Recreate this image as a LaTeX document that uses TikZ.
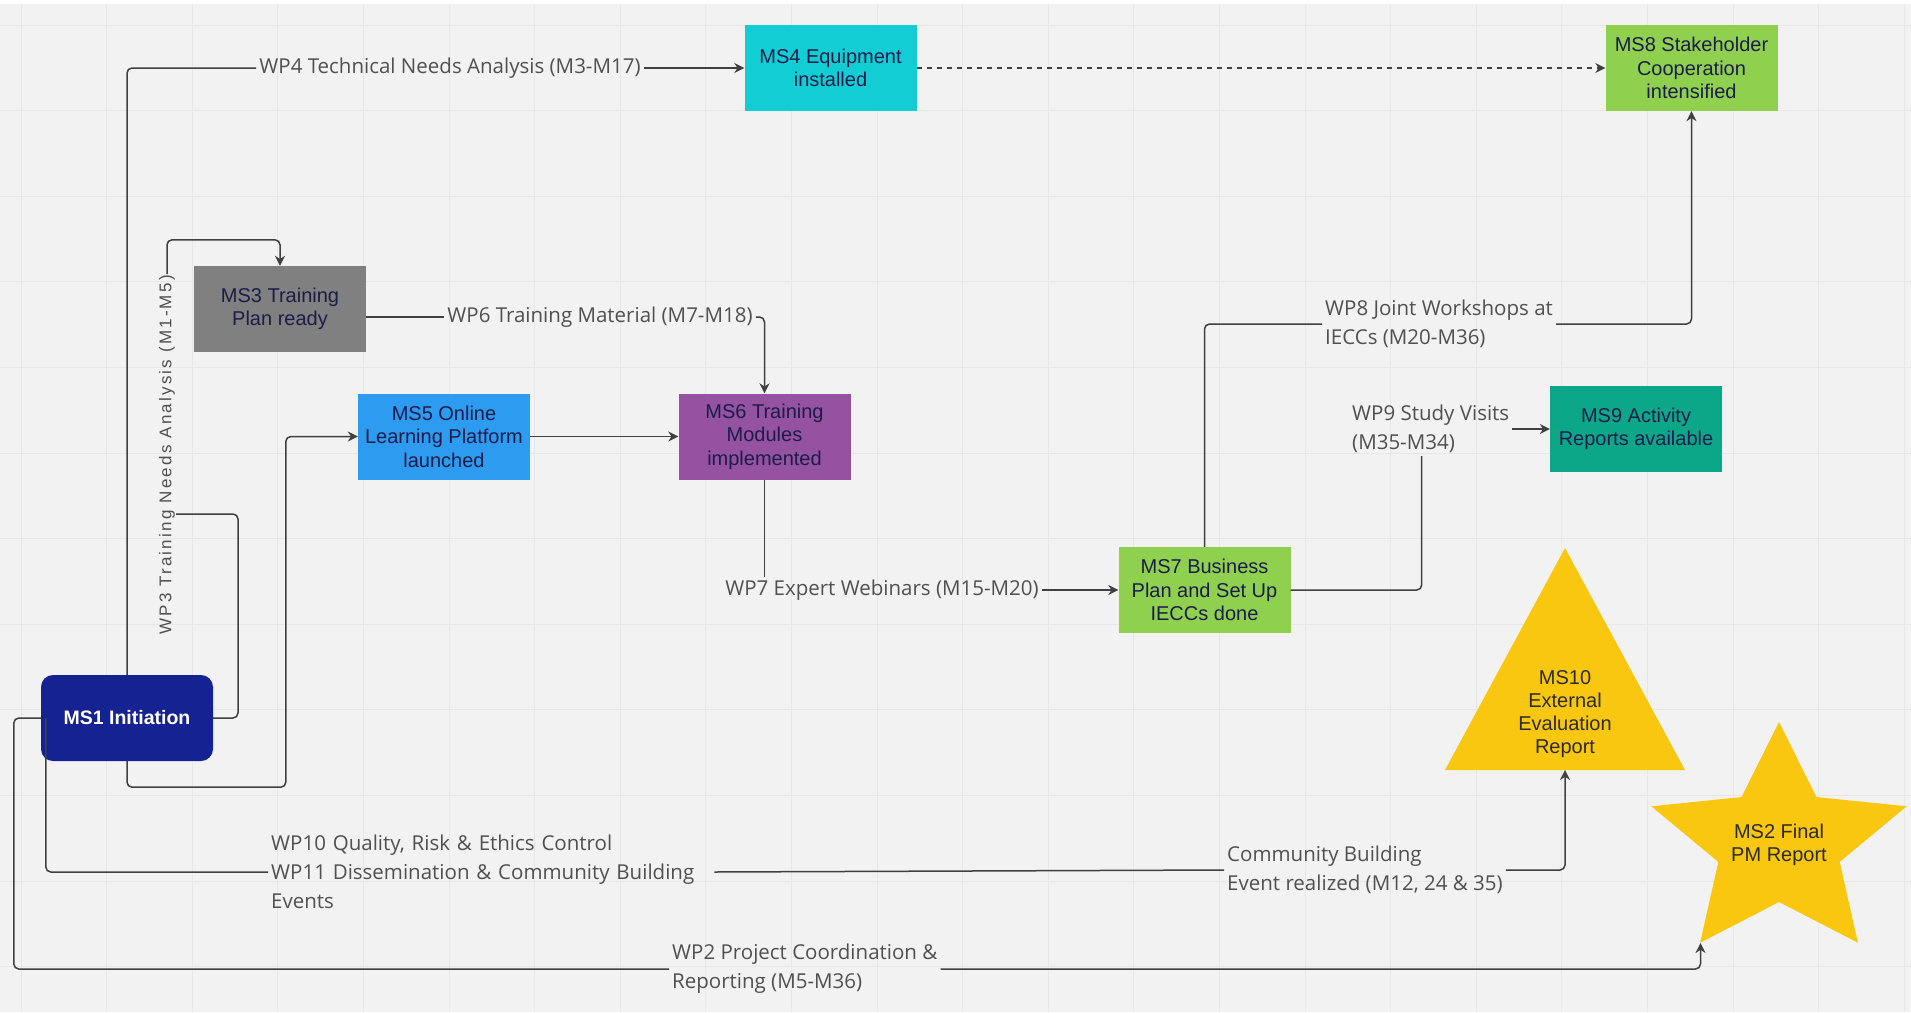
\documentclass[tikz,border=0pt]{standalone}
\usepackage{fontspec}
\setmainfont{Liberation Sans}
\newfontfamily\lblfont{Open Sans}
\newfontfamily\wpfont[LetterSpace=13]{Liberation Sans}
\usetikzlibrary{arrows.meta}

\definecolor{bggray}{HTML}{F2F2F2}
\definecolor{gridgray}{HTML}{E7E7E7}
\definecolor{linegray}{HTML}{404040}
\definecolor{labelgray}{HTML}{505050}
\definecolor{boxtext}{HTML}{1C1C4A}
\definecolor{darktext}{HTML}{2B2B2B}
\definecolor{mscyan}{HTML}{12CDD4}
\definecolor{msgreen}{HTML}{8FD14F}
\definecolor{msgray}{HTML}{808080}
\definecolor{msblue}{HTML}{2D9BF0}
\definecolor{mspurple}{HTML}{9452A0}
\definecolor{msteal}{HTML}{0CA789}
\definecolor{msnavy}{HTML}{142391}
\definecolor{msyellow}{HTML}{FAC710}

\begin{document}
\begin{tikzpicture}[x=1pt,y=-1pt]

 \tikzset{
    msbox/.style={
      minimum width=172pt,
      minimum height=86pt,
      inner sep=2pt,
      align=center,
      text=boxtext,
      font=\fontsize{20}{23.5}\selectfont
    },
    mstext/.style={align=center, text=darktext, font=\fontsize{20}{23}\selectfont},
    wplabel/.style={inner sep=3pt, align=left, text=labelgray,
      font=\lblfont\fontsize{20.5}{29}\selectfont},
    conn/.style={draw=linegray, line width=1.5pt, rounded corners=5pt},
    arr/.style={conn, -{Stealth[length=10pt,width=10pt]}},
    gridline/.style={draw=gridgray, line width=1pt}
  }

\useasboundingbox (0,0) rectangle (1911,1012);
\fill[white] (0,0) rectangle (1911,1012);
\fill[bggray] (0,4) rectangle (1911,1012);
\foreach \i in {0,...,22}
    \draw[gridline] ({21+85.6*\i},4) -- ({21+85.6*\i},1012);
\foreach \j in {0,...,11}
    \draw[gridline] (0,{25+85.6*\j}) -- (1911,{25+85.6*\j});

% milestones
\node[msbox, fill=msnavy, text=white, rounded corners=12pt,
      font=\bfseries\fontsize{19.5}{23.5}\selectfont] (ms1) at (127,718) {MS1 Initiation};
\node[msbox, fill=mscyan] (ms4) at (830.5,68) {MS4 Equipment\\installed};
\node[msbox, fill=msgreen] (ms8) at (1691.5,68) {MS8 Stakeholder\\Cooperation\\intensified};
\node[msbox, fill=msgray] (ms3) at (280,309) {MS3 Training\\Plan ready};
\node[msbox, fill=msblue] (ms5) at (444,436.5) {MS5 Online\\Learning Platform\\launched};
\node[msbox, fill=mspurple] (ms6) at (764.5,436.5) {MS6 Training\\Modules\\implemented};
\node[msbox, fill=msgreen] (ms7) at (1204.5,590) {MS7 Business\\Plan and Set Up\\IECCs done};
\node[msbox, fill=msteal] (ms9) at (1636,429) {MS9 Activity\\Reports available};

\fill[msyellow] (1565,548) -- (1685,770) -- (1445,770) -- cycle;
\node[mstext] (ms10) at (1565,714) {MS10\\External\\Evaluation\\Report};
\coordinate (ms10base) at (1565,770);

\fill[msyellow] (1779,722) \foreach \k in {0,...,4} {
    -- ({1779+1.1*58*cos(126+72*\k)},{844-58*sin(126+72*\k)})
    -- ({1779+1.1*122*cos(162+72*\k)},{844-122*sin(162+72*\k)})} -- cycle;
\node[mstext] (ms2) at (1779,845) {MS2 Final\\PM Report};
\coordinate (ms2tip) at (1700.5,943);

% work packages
\node[wplabel] (wp4) at (450,68) {WP4 Technical Needs Analysis (M3-M17)};
\node[wplabel, rotate=90, inner sep=1pt,
      font=\wpfont\fontsize{17}{20}\selectfont] (wp3) at (167,455) {WP3 Training Needs Analysis (M1-M5)};
\node[wplabel] (wp6) at (600,317) {WP6 Training Material (M7-M18)};
\node[wplabel] (wp7) at (882,590) {WP7 Expert Webinars (M15-M20)};
\node[wplabel, anchor=west] (wp8) at (1322,324) {WP8 Joint Workshops at\\IECCs (M20-M36)};
\node[wplabel, anchor=west] (wp9) at (1349,429) {WP9 Study Visits\\(M35-M34)};
\node[wplabel, anchor=west, text width=440pt] (wp10) at (268,872)
    {WP10 Quality, Risk \& Ethics Control\\WP11 Dissemination \& Community Building\\Events};
\node[wplabel, anchor=west] (cb) at (1224,870) {Community Building\\Event realized (M12, 24 \& 35)};
\node[wplabel, anchor=west] (wp2) at (669,969) {WP2 Project Coordination \&\\Reporting (M5-M36)};

\coordinate (wp3in) at (238,514);

\draw[conn] (ms1.north) |- (wp4.west);
\draw[arr] (wp4.east) -- (ms4.west);
\draw[arr, dash pattern=on 5pt off 5pt] (ms4.east) -- (ms8.west);
\draw[conn] (ms1.east) -| (wp3in) -- (wp3.south |- wp3in);
\draw[arr] (wp3.east) |- ([yshift=26pt]ms3.north) -- (ms3.north);
\draw[arr] (ms1.south) -- ++(0,26) -| ([xshift=-72pt]ms5.west) -- (ms5.west);
\draw[arr] (ms5.east) -- (ms6.west);
\draw[conn] (ms3.east |- wp6.west) -- (wp6.west);
\draw[arr] (wp6.east) -| (ms6.north);
\draw[conn] (ms6.south) -- (ms6.south |- wp7.north);
\draw[arr] (wp7.east) -- (ms7.west);
\draw[conn] (ms7.north) |- (wp8.west);
\draw[arr] (wp8.east) -| (ms8.south);
\draw[conn] (ms7.east) -| ([xshift=-9pt]wp9.south);
\draw[arr] (wp9.east) -- (ms9.west);
\draw[conn] ([xshift=5pt]ms1.west) |- (wp10.west);
\draw[conn] (wp10.east) -- (cb.west);
\draw[arr] (cb.east) -| (ms10base);
\draw[conn] (ms1.west) -- ++(-27,0) |- (wp2.west);
\draw[arr] (wp2.east) -| (ms2tip);
\end{tikzpicture}
\end{document}
